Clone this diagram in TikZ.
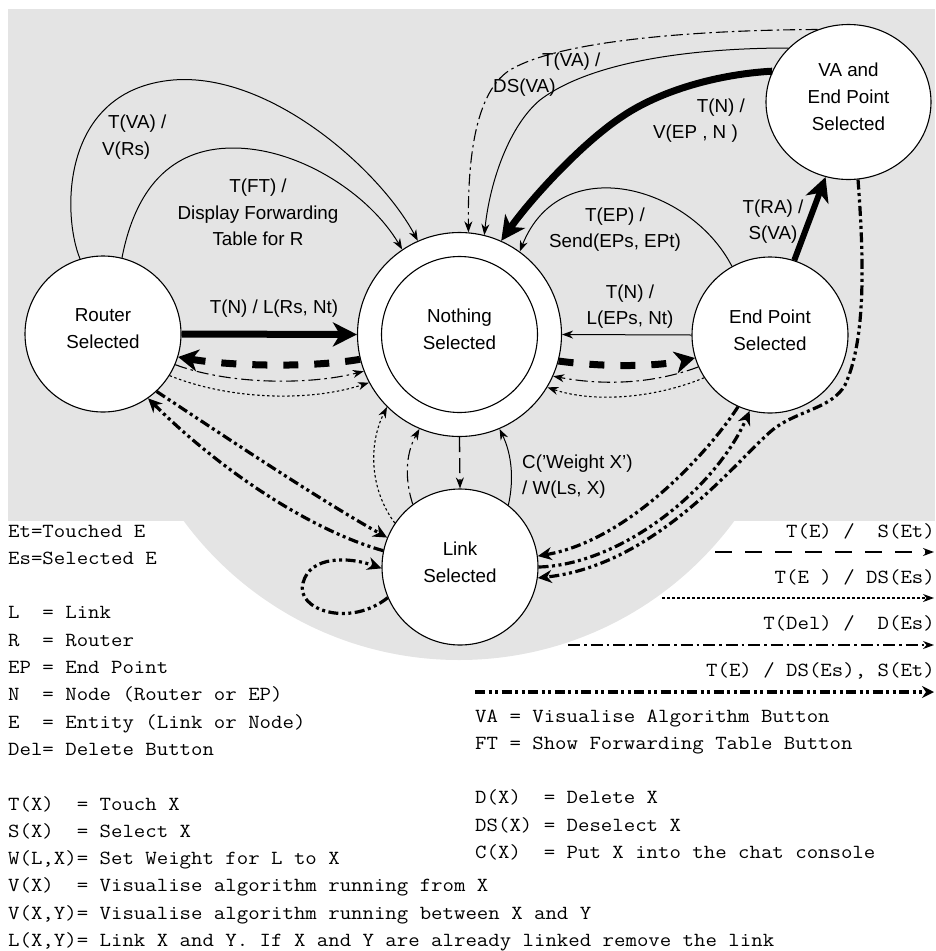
\documentclass[tikz,border=0pt]{standalone}
\usepackage{fontspec}
\setmainfont{Liberation Sans}
\usepackage{graphicx}
\usetikzlibrary{arrows.meta,shapes.geometric}
\definecolor{bggray}{RGB}{228,228,228}
\newcommand{\monostretch}[1]{\scalebox{1.11}[1]{#1}}
\tikzset{
  state/.style={circle,draw,line width=1.1pt,fill=white,minimum size=156pt,inner sep=0pt,align=center,font=\fontsize{18.8}{27}\selectfont,text depth=10pt},
  lbl/.style={inner sep=0pt,font=\fontsize{18.8}{26.5}\selectfont},
  mono/.style={inner sep=0pt,font=\fontsize{20}{27.3}\selectfont\ttfamily},
  smalltip/.style={-{Stealth[length=11pt,width=8pt,inset=3.5pt]}},
  plainarr/.style={line width=1pt,smalltip},
  bigarr/.style={line width=7pt,-{Stealth[length=24pt,width=24pt,inset=7pt]}},
  selthick/.style={line width=7pt,dash pattern=on 15pt off 16pt,-{Stealth[length=20pt,width=22pt,inset=6pt]}},
  seldash/.style={line width=1.3pt,dash pattern=on 15pt off 6pt,smalltip},
  deseldot/.style={line width=1.1pt,dash pattern=on 2.5pt off 2.5pt,smalltip},
  deldashdot/.style={line width=1.1pt,dash pattern=on 12pt off 4pt on 2.5pt off 4pt,smalltip},
  swaparr/.style={line width=3.2pt,dash pattern=on 10pt off 3.5pt on 3pt off 3.5pt on 3pt off 3.5pt,-{Stealth[length=14pt,width=13pt,inset=4.5pt]}},
}
\begin{document}
\begin{tikzpicture}[x=1pt,y=-1pt]
\useasboundingbox (0,0) rectangle (935,951);
% background
\fill[bggray] (8,9) rectangle (935,521);
\begin{scope}
  \clip (0,520) rectangle (935,951);
  \fill[bggray] (459,318) circle[radius=342pt];
\end{scope}
% states
\node[state] (R) at (103,334) {Router\\Selected};
\node[state,minimum size=204pt] (N) at (459.5,334.5) {};
\node[state] (Ni) at (459.5,334.5) {Nothing\\Selected};
\node[state] (E) at (770,335) {End Point\\Selected};
\node[state,ellipse,minimum width=165pt,minimum height=155pt] (V) at (848.5,102) {VA and\\End Point\\Selected};
\node[state] (L) at (460,567) {Link\\Selected};
% top arcs
\draw[plainarr] (R.107) .. controls (62,215) and (60,90) .. (173,80) .. controls (270,72) and (380,170) .. (N.114);
\draw[plainarr] (R.76) .. controls (135,190) and (170,148) .. (233,148) .. controls (300,148) and (370,195) .. (N.124.5);
\draw[deldashdot] (V.113.5) .. controls (700,30) and (560,40) .. (510,70) .. controls (470,95) and (468,180) .. (N.85);
\draw[plainarr] (V.138.2) .. controls (690,48) and (590,62) .. (540,100) .. controls (510,125) and (490,180) .. (N.76);
\draw[bigarr] (V.158.6) .. controls (720,74) and (660,90) .. (620,118) .. controls (580,145) and (530,200) .. (N.66);
\draw[plainarr] (E.119.7) .. controls (690,185) and (560,150) .. (N.54);
\draw[bigarr,line width=6pt] (E.72) -- (V.253);
% router <-> nothing
\draw[bigarr] (R.east) -- (N.west);
\draw[selthick] (N.194.4) .. controls (310,368) and (230,366) .. (R.343.4);
\draw[deldashdot] (R.337) .. controls (230,385) and (310,385) .. (N.201.8);
\draw[deseldot] (R.328.5) .. controls (230,400) and (310,402) .. (N.208.6);
% end point <-> nothing
\draw[plainarr] (E.west) -- (N.east);
\draw[selthick] (N.345.6) .. controls (610,368) and (660,366) .. (E.197);
\draw[deldashdot] (E.204.6) .. controls (650,385) and (600,385) .. (N.336.4);
\draw[deseldot] (E.213.5) .. controls (650,400) and (590,402) .. (N.329.4);
% link <-> nothing
\draw[seldash] (N.south) -- (L.north);
\draw[deseldot] (L.146) .. controls (370,490) and (368,445) .. (N.225.4);
\draw[deldashdot] (L.127.7) .. controls (405,480) and (405,455) .. (N.247);
\draw[plainarr] (L.52.8) .. controls (514,480) and (512,455) .. (N.293.5);
% link <-> router
\draw[swaparr] (R.313.5) .. controls (230,440) and (320,500) .. (L.158);
\draw[swaparr] (L.168.4) .. controls (310,530) and (220,470) .. (R.305.5);
\draw[swaparr] (L.203) .. controls (350,628) and (295,610) .. (303,583) .. controls (310,555) and (350,557) .. (L.181);
% link <-> end point, VA -> link
\draw[swaparr] (E.246) .. controls (710,450) and (630,540) .. (L.8.5);
\draw[swaparr] (L.0) .. controls (620,565) and (715,490) .. (E.255.4);
\draw[swaparr] (V.277) .. controls (864,260) and (866,340) .. (845,385) .. controls (832,408) and (800,410) .. (775,428) .. controls (745,450) and (660,565) .. (L.352);
% transition labels
\node[lbl,anchor=west,align=left] (l1) at (102,137) {\hspace{6pt}T(VA) /\\V(Rs)};
\node[lbl,align=center] (l2) at (258,212.5) {T(FT) /\\Display Forwarding\\Table for R};
\node[lbl,anchor=west,align=left] (l3) at (493,74.5) {\hspace{49pt}T(VA) /\\DS(VA)};
\node[lbl,anchor=east,align=right] (l4) at (745,120.5) {T(N) /\\V(EP , N )\rule{7pt}{0pt}};
\node[lbl,align=center] (l5) at (615,229.5) {T(EP) /\\Send(EPs, EPt)};
\node[lbl,align=center] (l6) at (773,221.5) {T(RA) /\\S(VA)};
\node[lbl] (l7) at (274,309) {T(N) / L(Rs, Nt)};
\node[lbl,align=center] (l8) at (630,306.5) {T(N) /\\L(EPs, Nt)};
\node[lbl,anchor=west,align=left] (l9) at (522,476.5) {C('Weight X')\\/ W(Ls, X)};
% legend of line styles
\node[mono,anchor=base east] (k1) at (935,537) {\monostretch{T(E) /~~S(Et)}};
\node[mono,anchor=base east] (k2) at (935,583) {\monostretch{T(E~) / DS(Es)}};
\node[mono,anchor=base east] (k3) at (935,629) {\monostretch{T(Del) /~~D(Es)}};
\node[mono,anchor=base east] (k4) at (935,676) {\monostretch{T(E) / DS(Es), S(Et)}};
\coordinate (d1a) at (715,552); \coordinate (d1b) at (934,552);
\coordinate (d2a) at (662,598); \coordinate (d2b) at (934,598);
\coordinate (d3a) at (568,645); \coordinate (d3b) at (934,645);
\coordinate (d4a) at (475,692); \coordinate (d4b) at (934,692);
\draw[line width=1.4pt,dash pattern=on 17pt off 13pt,smalltip] (d1a) -- (d1b);
\draw[deseldot] (d2a) -- (d2b);
\draw[deldashdot,line width=1.3pt] (d3a) -- (d3b);
\draw[swaparr,line width=4pt,-{Stealth[length=12pt,width=12pt,inset=4pt]}] (d4a) -- (d4b);
% abbreviations
\node[mono,anchor=base west] (leftlegend) at (8,537) {\monostretch{\begin{tabular}[t]{@{}l@{}}
Et=Touched E\\
Es=Selected E\\
\\
L~~= Link\\
R~~= Router\\
EP = End Point\\
N~~= Node (Router or EP)\\
E~~= Entity (Link or Node)\\
Del= Delete Button\\
\\
T(X)~~= Touch X\\
S(X)~~= Select X\\
W(L,X)= Set Weight for L to X\\
V(X)~~= Visualise algorithm running from X\\
V(X,Y)= Visualise algorithm running between X and Y\\
L(X,Y)= Link X and Y. If X and Y are already linked remove the link
\end{tabular}}};
\node[mono,anchor=base west] (rightlegend) at (475,722) {\monostretch{\begin{tabular}[t]{@{}l@{}}
VA = Visualise Algorithm Button\\
FT = Show Forwarding Table Button\\
\\
D(X)~~= Delete X\\
DS(X) = Deselect X\\
C(X)~~= Put X into the chat console
\end{tabular}}};
\end{tikzpicture}
\end{document}
